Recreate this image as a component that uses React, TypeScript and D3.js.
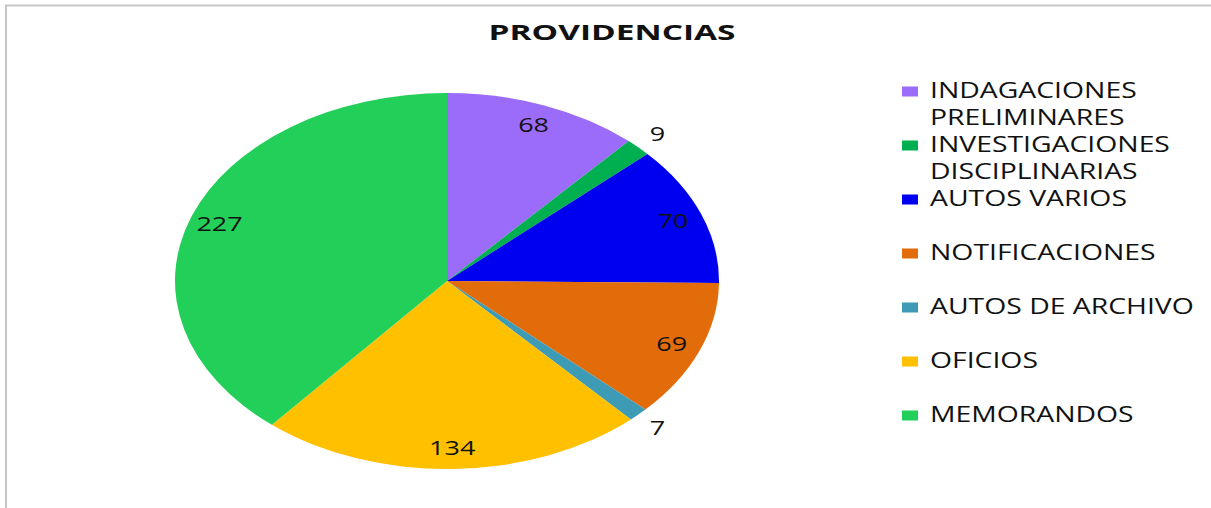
import React from "react";
import * as d3 from "d3";

const title = "PROVIDENCIAS";
const categories = [
  ["INDAGACIONES", "PRELIMINARES"],
  ["INVESTIGACIONES", "DISCIPLINARIAS"],
  ["AUTOS VARIOS"],
  ["NOTIFICACIONES"],
  ["AUTOS DE ARCHIVO"],
  ["OFICIOS"],
  ["MEMORANDOS"],
];
const values = [68, 9, 70, 69, 7, 134, 227];
const colors = ["#9B6BFA", "#00B050", "#0000F0", "#E36C0A", "#3D9BB5", "#FFC000", "#22CF58"];

const W = 1211;
const H = 508;
const cx = 447;
const cy = 281;
const rx = 272;
const ry = 188;
const sx = rx / ry;
const textScale = 1.35;
const font = "'Open Sans', sans-serif";

export default function App() {
  const total = d3.sum(values);
  const pie = d3.pie<number>().sort(null).value((d) => d)(values);
  const arc = d3.arc<d3.PieArcDatum<number>>().innerRadius(0).outerRadius(ry);

  const labelPos = (a: d3.PieArcDatum<number>) => {
    const mid = (a.startAngle + a.endAngle) / 2;
    const outside = a.value / total < 0.03;
    const r = outside ? 1.1 : 0.89;
    return [cx + Math.sin(mid) * rx * r, cy - Math.cos(mid) * ry * r];
  };

  return (
    <svg
      width={W}
      height={H}
      style={{ position: "fixed", left: 0, top: 0, background: "#fff" }}
    >
      <rect x={0} y={0} width={W} height={H} fill="#fff" />
      <path d={`M6,${H} L6,5.5 L${W},5.5`} fill="none" stroke="#c6c6c6" strokeWidth={2} />
      <text
        x={612}
        y={40}
        textAnchor="middle"
        fontFamily={font}
        fontWeight="bold"
        fontSize={22}
        fill="#111"
        textLength={247}
        lengthAdjust="spacingAndGlyphs"
      >
        {title}
      </text>
      <g transform={`translate(${cx},${cy}) scale(${sx},1)`}>
        {pie.map((a, i) => (
          <path key={i} d={arc(a) || ""} fill={colors[i]} />
        ))}
      </g>
      {pie.map((a, i) => {
        const [x, y] = labelPos(a);
        return (
          <text
            key={i}
            transform={`translate(${x},${y}) scale(${textScale},1)`}
            textAnchor="middle"
            dy="0.36em"
            fontFamily={font}
            fontSize={20}
            fill="#111"
          >
            {values[i]}
          </text>
        );
      })}
      {categories.map((lines, i) => {
        const b = 98 + i * 54;
        return (
          <g key={i}>
            <rect x={902} y={b - 11.5} width={16} height={10} fill={colors[i]} />
            {lines.map((l, j) => (
              <text
                key={j}
                transform={`translate(930,${b + j * 26.5}) scale(${textScale},1)`}
                fontFamily={font}
                fontSize={21}
                fill="#111"
              >
                {l}
              </text>
            ))}
          </g>
        );
      })}
    </svg>
  );
}
